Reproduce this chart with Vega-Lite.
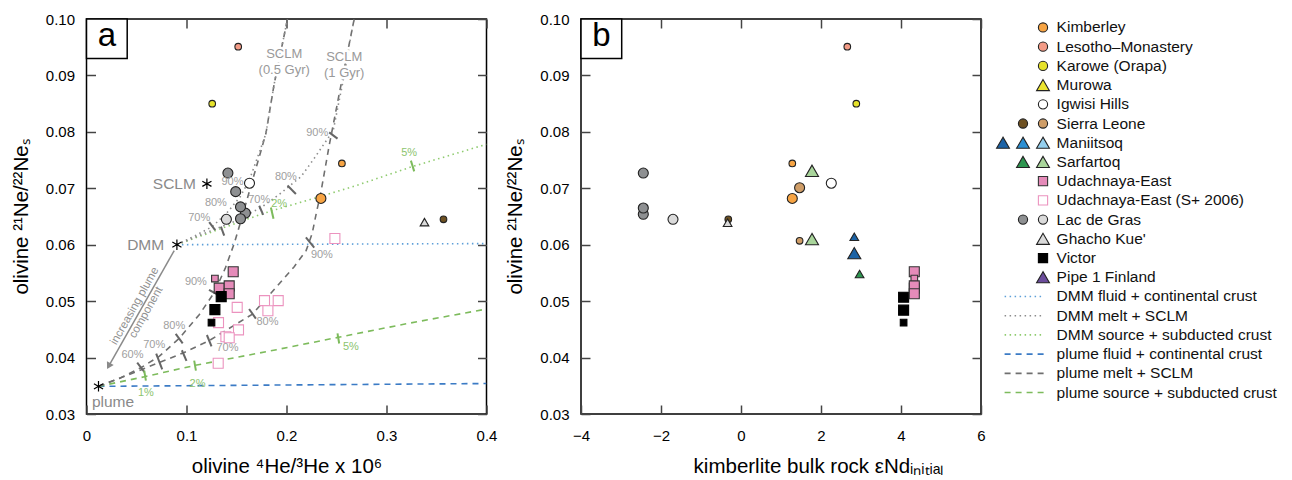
{
"$schema": "https://vega.github.io/schema/vega-lite/v6.json",
"padding": {"left": 10.5, "top": 11, "right": 0, "bottom": 0},
"background": "white",
"config": {
 "font": "Liberation Sans",
 "view": {"stroke": "#000", "strokeWidth": 1.5},
 "axis": {"domain": false, "grid": false, "ticks": true, "labelFlush": false, "tickColor": "#444", "tickSize": -9, "tickWidth": 1.5, "labelFontSize": 15, "labelColor": "#000", "labelFont": "Liberation Sans", "titleFont": "Liberation Sans", "titleFontSize": 20.5, "titleFontWeight": "normal", "titleColor": "#000"},
 "axisX": {"labelPadding": 23, "titlePadding": 13},
 "axisY": {"labelPadding": 21, "titlePadding": 14},
 "text": {"font": "Liberation Sans"}
},
"datasets": {
 "linesA": [
  {"mix": "DMM fluid + continental crust", "curve": "dmmfluid", "i": 0, "he": 0.0904, "ne": 0.0600},
  {"mix": "DMM fluid + continental crust", "curve": "dmmfluid", "i": 1, "he": 0.4, "ne": 0.0602},
  {"mix": "plume fluid + continental crust", "curve": "plumefluid", "i": 0, "he": 0.012, "ne": 0.0349},
  {"mix": "plume fluid + continental crust", "curve": "plumefluid", "i": 1, "he": 0.4, "ne": 0.0354},
  {"mix": "DMM source + subducted crust", "curve": "dmmsrc", "i": 0, "he": 0.0904, "ne": 0.0600},
  {"mix": "DMM source + subducted crust", "curve": "dmmsrc", "i": 1, "he": 0.115, "ne": 0.0616},
  {"mix": "DMM source + subducted crust", "curve": "dmmsrc", "i": 2, "he": 0.14, "ne": 0.0632},
  {"mix": "DMM source + subducted crust", "curve": "dmmsrc", "i": 3, "he": 0.16, "ne": 0.0645},
  {"mix": "DMM source + subducted crust", "curve": "dmmsrc", "i": 4, "he": 0.185, "ne": 0.0660},
  {"mix": "DMM source + subducted crust", "curve": "dmmsrc", "i": 5, "he": 0.21, "ne": 0.0673},
  {"mix": "DMM source + subducted crust", "curve": "dmmsrc", "i": 6, "he": 0.235, "ne": 0.0686},
  {"mix": "DMM source + subducted crust", "curve": "dmmsrc", "i": 7, "he": 0.27, "ne": 0.0705},
  {"mix": "DMM source + subducted crust", "curve": "dmmsrc", "i": 8, "he": 0.325, "ne": 0.0738},
  {"mix": "DMM source + subducted crust", "curve": "dmmsrc", "i": 9, "he": 0.4, "ne": 0.0778},
  {"mix": "plume source + subducted crust", "curve": "plumesrc", "i": 0, "he": 0.012, "ne": 0.0349},
  {"mix": "plume source + subducted crust", "curve": "plumesrc", "i": 1, "he": 0.058, "ne": 0.0366},
  {"mix": "plume source + subducted crust", "curve": "plumesrc", "i": 2, "he": 0.108, "ne": 0.0386},
  {"mix": "plume source + subducted crust", "curve": "plumesrc", "i": 3, "he": 0.19, "ne": 0.0414},
  {"mix": "plume source + subducted crust", "curve": "plumesrc", "i": 4, "he": 0.252, "ne": 0.0436},
  {"mix": "plume source + subducted crust", "curve": "plumesrc", "i": 5, "he": 0.32, "ne": 0.0460},
  {"mix": "plume source + subducted crust", "curve": "plumesrc", "i": 6, "he": 0.4, "ne": 0.0486},
  {"mix": "plume melt + SCLM", "curve": "p05", "i": 0, "he": 0.012, "ne": 0.0349},
  {"mix": "plume melt + SCLM", "curve": "p05", "i": 1, "he": 0.0327, "ne": 0.0363},
  {"mix": "plume melt + SCLM", "curve": "p05", "i": 2, "he": 0.0544, "ne": 0.0382},
  {"mix": "plume melt + SCLM", "curve": "p05", "i": 3, "he": 0.0727, "ne": 0.0402},
  {"mix": "plume melt + SCLM", "curve": "p05", "i": 4, "he": 0.0927, "ne": 0.0434},
  {"mix": "plume melt + SCLM", "curve": "p05", "i": 5, "he": 0.1127, "ne": 0.0476},
  {"mix": "plume melt + SCLM", "curve": "p05", "i": 6, "he": 0.1277, "ne": 0.0515},
  {"mix": "plume melt + SCLM", "curve": "p05", "i": 7, "he": 0.1387, "ne": 0.0558},
  {"mix": "plume melt + SCLM", "curve": "p05", "i": 8, "he": 0.1477, "ne": 0.0602},
  {"mix": "plume melt + SCLM", "curve": "p05", "i": 9, "he": 0.1557, "ne": 0.0650},
  {"mix": "plume melt + SCLM", "curve": "p05", "i": 10, "he": 0.166, "ne": 0.0714},
  {"mix": "plume melt + SCLM", "curve": "p05", "i": 11, "he": 0.1794, "ne": 0.0797},
  {"mix": "plume melt + SCLM", "curve": "p05", "i": 12, "he": 0.1877, "ne": 0.0885},
  {"mix": "plume melt + SCLM", "curve": "p05", "i": 13, "he": 0.201, "ne": 0.1},
  {"mix": "plume melt + SCLM", "curve": "p1", "i": 0, "he": 0.012, "ne": 0.0349},
  {"mix": "plume melt + SCLM", "curve": "p1", "i": 1, "he": 0.0527, "ne": 0.0377},
  {"mix": "plume melt + SCLM", "curve": "p1", "i": 2, "he": 0.0977, "ne": 0.0409},
  {"mix": "plume melt + SCLM", "curve": "p1", "i": 3, "he": 0.1227, "ne": 0.0430},
  {"mix": "plume melt + SCLM", "curve": "p1", "i": 4, "he": 0.166, "ne": 0.0477},
  {"mix": "plume melt + SCLM", "curve": "p1", "i": 5, "he": 0.1894, "ne": 0.0524},
  {"mix": "plume melt + SCLM", "curve": "p1", "i": 6, "he": 0.2077, "ne": 0.0561},
  {"mix": "plume melt + SCLM", "curve": "p1", "i": 7, "he": 0.2197, "ne": 0.0590},
  {"mix": "plume melt + SCLM", "curve": "p1", "i": 8, "he": 0.2257, "ne": 0.0620},
  {"mix": "plume melt + SCLM", "curve": "p1", "i": 9, "he": 0.2297, "ne": 0.0655},
  {"mix": "plume melt + SCLM", "curve": "p1", "i": 10, "he": 0.2347, "ne": 0.0696},
  {"mix": "plume melt + SCLM", "curve": "p1", "i": 11, "he": 0.2427, "ne": 0.0776},
  {"mix": "plume melt + SCLM", "curve": "p1", "i": 12, "he": 0.2527, "ne": 0.0867},
  {"mix": "plume melt + SCLM", "curve": "p1", "i": 13, "he": 0.2677, "ne": 0.1},
  {"mix": "DMM melt + SCLM", "curve": "d05", "i": 0, "he": 0.0904, "ne": 0.0600},
  {"mix": "DMM melt + SCLM", "curve": "d05", "i": 1, "he": 0.1087, "ne": 0.0616},
  {"mix": "DMM melt + SCLM", "curve": "d05", "i": 2, "he": 0.1257, "ne": 0.0632},
  {"mix": "DMM melt + SCLM", "curve": "d05", "i": 3, "he": 0.1407, "ne": 0.0657},
  {"mix": "DMM melt + SCLM", "curve": "d05", "i": 4, "he": 0.1537, "ne": 0.0685},
  {"mix": "DMM melt + SCLM", "curve": "d05", "i": 5, "he": 0.1627, "ne": 0.0714},
  {"mix": "DMM melt + SCLM", "curve": "d05", "i": 6, "he": 0.1717, "ne": 0.0758},
  {"mix": "DMM melt + SCLM", "curve": "d05", "i": 7, "he": 0.1794, "ne": 0.0797},
  {"mix": "DMM melt + SCLM", "curve": "d05", "i": 8, "he": 0.1877, "ne": 0.0885},
  {"mix": "DMM melt + SCLM", "curve": "d05", "i": 9, "he": 0.201, "ne": 0.1},
  {"mix": "DMM melt + SCLM", "curve": "d1", "i": 0, "he": 0.0904, "ne": 0.0600},
  {"mix": "DMM melt + SCLM", "curve": "d1", "i": 1, "he": 0.1177, "ne": 0.0620},
  {"mix": "DMM melt + SCLM", "curve": "d1", "i": 2, "he": 0.1477, "ne": 0.0641},
  {"mix": "DMM melt + SCLM", "curve": "d1", "i": 3, "he": 0.1747, "ne": 0.0666},
  {"mix": "DMM melt + SCLM", "curve": "d1", "i": 4, "he": 0.1927, "ne": 0.0689},
  {"mix": "DMM melt + SCLM", "curve": "d1", "i": 5, "he": 0.2147, "ne": 0.0721},
  {"mix": "DMM melt + SCLM", "curve": "d1", "i": 6, "he": 0.2277, "ne": 0.0753},
  {"mix": "DMM melt + SCLM", "curve": "d1", "i": 7, "he": 0.2377, "ne": 0.0779},
  {"mix": "DMM melt + SCLM", "curve": "d1", "i": 8, "he": 0.2467, "ne": 0.0802},
  {"mix": "DMM melt + SCLM", "curve": "d1", "i": 9, "he": 0.2517, "ne": 0.0847},
  {"mix": "DMM melt + SCLM", "curve": "d1", "i": 10, "he": 0.2577, "ne": 0.0900},
  {"mix": "DMM melt + SCLM", "curve": "d1", "i": 11, "he": 0.2647, "ne": 0.0974},
  {"mix": "DMM melt + SCLM", "curve": "d1", "i": 12, "he": 0.2677, "ne": 0.1}
 ],
 "marksA": [
  {"tone": "gray", "he": 0.0507, "ne": 0.0391, "he2": 0.0580, "ne2": 0.0374},
  {"tone": "gray", "he": 0.0697, "ne": 0.0407, "he2": 0.0757, "ne2": 0.0379},
  {"tone": "gray", "he": 0.0892, "ne": 0.0442, "he2": 0.0962, "ne2": 0.0425},
  {"tone": "gray", "he": 0.1225, "ne": 0.0520, "he2": 0.1329, "ne2": 0.0510},
  {"tone": "gray", "he": 0.0954, "ne": 0.0413, "he2": 0.1000, "ne2": 0.0394},
  {"tone": "gray", "he": 0.1204, "ne": 0.0440, "he2": 0.1250, "ne2": 0.0420},
  {"tone": "gray", "he": 0.1626, "ne": 0.0486, "he2": 0.1694, "ne2": 0.0469},
  {"tone": "gray", "he": 0.2194, "ne": 0.0613, "he2": 0.2277, "ne2": 0.0595},
  {"tone": "gray", "he": 0.2427, "ne": 0.0799, "he2": 0.2510, "ne2": 0.0788},
  {"tone": "gray", "he": 0.1727, "ne": 0.0669, "he2": 0.1767, "ne2": 0.0653},
  {"tone": "gray", "he": 0.2010, "ne": 0.0705, "he2": 0.2094, "ne2": 0.0690},
  {"tone": "gray", "he": 0.1227, "ne": 0.0640, "he2": 0.1287, "ne2": 0.0626},
  {"tone": "gray", "he": 0.1344, "ne": 0.0632, "he2": 0.1377, "ne2": 0.0616},
  {"tone": "green", "he": 0.1844, "ne": 0.0666, "he2": 0.1870, "ne2": 0.0646},
  {"tone": "green", "he": 0.3244, "ne": 0.0749, "he2": 0.3277, "ne2": 0.0730},
  {"tone": "green", "he": 0.2510, "ne": 0.0443, "he2": 0.2527, "ne2": 0.0425},
  {"tone": "green", "he": 0.1077, "ne": 0.03945, "he2": 0.1094, "ne2": 0.03768},
  {"tone": "green", "he": 0.0577, "ne": 0.03768, "he2": 0.0594, "ne2": 0.0359}
 ],
 "ptsA": [
  {"v": "Udachnaya-East (S+ 2006)", "sz": "L", "he": 0.2484, "ne": 0.0611},
  {"v": "Udachnaya-East (S+ 2006)", "sz": "L", "he": 0.1780, "ne": 0.0501},
  {"v": "Udachnaya-East (S+ 2006)", "sz": "L", "he": 0.1917, "ne": 0.0501},
  {"v": "Udachnaya-East (S+ 2006)", "sz": "L", "he": 0.1814, "ne": 0.0483},
  {"v": "Udachnaya-East (S+ 2006)", "sz": "L", "he": 0.1507, "ne": 0.0489},
  {"v": "Udachnaya-East (S+ 2006)", "sz": "L", "he": 0.1320, "ne": 0.0462},
  {"v": "Udachnaya-East (S+ 2006)", "sz": "L", "he": 0.1520, "ne": 0.0449},
  {"v": "Udachnaya-East (S+ 2006)", "sz": "L", "he": 0.1394, "ne": 0.0437},
  {"v": "Udachnaya-East (S+ 2006)", "sz": "L", "he": 0.1427, "ne": 0.0435},
  {"v": "Udachnaya-East (S+ 2006)", "sz": "L", "he": 0.1317, "ne": 0.0390},
  {"v": "Lesotho–Monastery", "sz": "S", "he": 0.1517, "ne": 0.0951},
  {"v": "Karowe (Orapa)", "sz": "S", "he": 0.1257, "ne": 0.0850},
  {"v": "Lac de Gras A", "sz": "L", "he": 0.1414, "ne": 0.0727},
  {"v": "Lac de Gras A", "sz": "L", "he": 0.1492, "ne": 0.0694},
  {"v": "Lac de Gras A", "sz": "L", "he": 0.1589, "ne": 0.0656},
  {"v": "Lac de Gras A", "sz": "L", "he": 0.1540, "ne": 0.0667},
  {"v": "Lac de Gras A", "sz": "L", "he": 0.1540, "ne": 0.0646},
  {"v": "Lac de Gras B", "sz": "L", "he": 0.1399, "ne": 0.0645},
  {"v": "Igwisi Hills", "sz": "L", "he": 0.1630, "ne": 0.0709},
  {"v": "Kimberley", "sz": "S", "he": 0.2554, "ne": 0.0744},
  {"v": "Kimberley", "sz": "L", "he": 0.2344, "ne": 0.0682},
  {"v": "Sierra Leone A", "sz": "S", "he": 0.3570, "ne": 0.0645},
  {"v": "Ghacho Kue'", "sz": "S", "he": 0.3380, "ne": 0.0640},
  {"v": "Udachnaya-East", "sz": "L", "he": 0.1467, "ne": 0.0552},
  {"v": "Udachnaya-East", "sz": "S", "he": 0.1284, "ne": 0.0540},
  {"v": "Udachnaya-East", "sz": "L", "he": 0.1327, "ne": 0.0523},
  {"v": "Udachnaya-East", "sz": "L", "he": 0.1427, "ne": 0.0527},
  {"v": "Udachnaya-East", "sz": "L", "he": 0.1427, "ne": 0.0513},
  {"v": "Victor", "sz": "L", "he": 0.1347, "ne": 0.0508},
  {"v": "Victor", "sz": "L", "he": 0.1284, "ne": 0.0485},
  {"v": "Victor", "sz": "S", "he": 0.1250, "ne": 0.0462}
 ],
 "endA": [
  {"name": "SCLM", "he": 0.1204, "ne": 0.0708},
  {"name": "DMM", "he": 0.0904, "ne": 0.0600},
  {"name": "plume", "he": 0.012, "ne": 0.0349}
 ],
 "annA": [
  {"k": "endR", "t": "SCLM", "he": 0.1094, "ne": 0.0708},
  {"k": "endR", "t": "DMM", "he": 0.0777, "ne": 0.0599},
  {"k": "endL", "t": "plume", "he": 0.0054, "ne": 0.0321},
  {"k": "gyr", "t": "SCLM|(0.5 Gyr)", "he": 0.1977, "ne": 0.0938},
  {"k": "gyr", "t": "SCLM|(1 Gyr)", "he": 0.2577, "ne": 0.0932},
  {"k": "pct", "t": "90%", "he": 0.146, "ne": 0.07106},
  {"k": "pct", "t": "80%", "he": 0.1294, "ne": 0.06734},
  {"k": "pct", "t": "70%", "he": 0.1127, "ne": 0.06475},
  {"k": "pct", "t": "70%", "he": 0.1727, "ne": 0.06794},
  {"k": "pct", "t": "80%", "he": 0.1994, "ne": 0.07207},
  {"k": "pct", "t": "90%", "he": 0.2307, "ne": 0.07988},
  {"k": "pct", "t": "90%", "he": 0.2354, "ne": 0.05824},
  {"k": "pct", "t": "90%", "he": 0.1094, "ne": 0.05333},
  {"k": "pct", "t": "80%", "he": 0.0877, "ne": 0.04566},
  {"k": "pct", "t": "70%", "he": 0.0677, "ne": 0.04229},
  {"k": "pct", "t": "60%", "he": 0.046, "ne": 0.04051},
  {"k": "pct", "t": "70%", "he": 0.141, "ne": 0.0417},
  {"k": "pct", "t": "80%", "he": 0.181, "ne": 0.04624},
  {"k": "pctg", "t": "2%", "he": 0.1927, "ne": 0.06723},
  {"k": "pctg", "t": "5%", "he": 0.3227, "ne": 0.07628},
  {"k": "pctg", "t": "5%", "he": 0.2644, "ne": 0.04193},
  {"k": "pctg", "t": "2%", "he": 0.111, "ne": 0.03532},
  {"k": "pctg", "t": "1%", "he": 0.0594, "ne": 0.03365},
  {"k": "arrow", "t": "increasing plume|component", "he": 0.0485, "ne": 0.0491}
 ],
 "arrowA": [
  {"he": 0.0877, "ne": 0.05895, "he2": 0.0222, "ne2": 0.0385}
 ],
 "ptsB": [
  {"v": "Lac de Gras A", "sz": "L", "end": -2.4425, "ne": 0.0727},
  {"v": "Lac de Gras A", "sz": "L", "end": -2.4425, "ne": 0.0654},
  {"v": "Lac de Gras A", "sz": "L", "end": -2.4425, "ne": 0.0665},
  {"v": "Lac de Gras B", "sz": "L", "end": -1.70, "ne": 0.0645},
  {"v": "Ghacho Kue'", "sz": "S", "end": -0.335, "ne": 0.0639},
  {"v": "Sierra Leone A", "sz": "S", "end": -0.3175, "ne": 0.0645},
  {"v": "Kimberley", "sz": "S", "end": 1.2825, "ne": 0.0744},
  {"v": "Sierra Leone B", "sz": "L", "end": 1.465, "ne": 0.0701},
  {"v": "Kimberley", "sz": "L", "end": 1.2825, "ne": 0.0682},
  {"v": "Sierra Leone B", "sz": "S", "end": 1.465, "ne": 0.0607},
  {"v": "Sarfartoq B", "sz": "L", "end": 1.775, "ne": 0.0731},
  {"v": "Sarfartoq B", "sz": "L", "end": 1.775, "ne": 0.0610},
  {"v": "Igwisi Hills", "sz": "L", "end": 2.2575, "ne": 0.0709},
  {"v": "Maniitsoq A", "sz": "S", "end": 2.8325, "ne": 0.0614},
  {"v": "Maniitsoq A", "sz": "L", "end": 2.8325, "ne": 0.0585},
  {"v": "Sarfartoq A", "sz": "S", "end": 2.965, "ne": 0.0548},
  {"v": "Lesotho–Monastery", "sz": "S", "end": 2.6575, "ne": 0.0951},
  {"v": "Karowe (Orapa)", "sz": "S", "end": 2.8825, "ne": 0.0850},
  {"v": "Victor", "sz": "L", "end": 4.065, "ne": 0.0507},
  {"v": "Victor", "sz": "L", "end": 4.065, "ne": 0.0484},
  {"v": "Victor", "sz": "S", "end": 4.065, "ne": 0.0462},
  {"v": "Udachnaya-East", "sz": "L", "end": 4.3325, "ne": 0.0552},
  {"v": "Udachnaya-East", "sz": "S", "end": 4.3325, "ne": 0.0540},
  {"v": "Udachnaya-East", "sz": "L", "end": 4.3325, "ne": 0.0523},
  {"v": "Udachnaya-East", "sz": "L", "end": 4.3325, "ne": 0.0527},
  {"v": "Udachnaya-East", "sz": "L", "end": 4.3325, "ne": 0.0513}
 ],
 "legSym": [
  {"entry": "Kimberley", "v": "Kimberley", "col": 3},
  {"entry": "Lesotho–Monastery", "v": "Lesotho–Monastery", "col": 3},
  {"entry": "Karowe (Orapa)", "v": "Karowe (Orapa)", "col": 3},
  {"entry": "Murowa", "v": "Murowa", "col": 3},
  {"entry": "Igwisi Hills", "v": "Igwisi Hills", "col": 3},
  {"entry": "Sierra Leone", "v": "Sierra Leone A", "col": 2},
  {"entry": "Sierra Leone", "v": "Sierra Leone B", "col": 3},
  {"entry": "Maniitsoq", "v": "Maniitsoq A", "col": 1},
  {"entry": "Maniitsoq", "v": "Maniitsoq B", "col": 2},
  {"entry": "Maniitsoq", "v": "Maniitsoq C", "col": 3},
  {"entry": "Sarfartoq", "v": "Sarfartoq A", "col": 2},
  {"entry": "Sarfartoq", "v": "Sarfartoq B", "col": 3},
  {"entry": "Udachnaya-East", "v": "Udachnaya-East", "col": 3},
  {"entry": "Udachnaya-East (S+ 2006)", "v": "Udachnaya-East (S+ 2006)", "col": 3},
  {"entry": "Lac de Gras", "v": "Lac de Gras A", "col": 2},
  {"entry": "Lac de Gras", "v": "Lac de Gras B", "col": 3},
  {"entry": "Ghacho Kue'", "v": "Ghacho Kue'", "col": 3},
  {"entry": "Victor", "v": "Victor", "col": 3},
  {"entry": "Pipe 1 Finland", "v": "Pipe 1 Finland", "col": 3}
 ],
 "legLines": [
  {"entry": "DMM fluid + continental crust"},
  {"entry": "DMM melt + SCLM"},
  {"entry": "DMM source + subducted crust"},
  {"entry": "plume fluid + continental crust"},
  {"entry": "plume melt + SCLM"},
  {"entry": "plume source + subducted crust"}
 ],
 "legText": [
  {"entry": "Kimberley"}, {"entry": "Lesotho–Monastery"}, {"entry": "Karowe (Orapa)"}, {"entry": "Murowa"},
  {"entry": "Igwisi Hills"}, {"entry": "Sierra Leone"}, {"entry": "Maniitsoq"}, {"entry": "Sarfartoq"},
  {"entry": "Udachnaya-East"}, {"entry": "Udachnaya-East (S+ 2006)"}, {"entry": "Lac de Gras"}, {"entry": "Ghacho Kue'"},
  {"entry": "Victor"}, {"entry": "Pipe 1 Finland"}, {"entry": "DMM fluid + continental crust"}, {"entry": "DMM melt + SCLM"},
  {"entry": "DMM source + subducted crust"}, {"entry": "plume fluid + continental crust"}, {"entry": "plume melt + SCLM"}, {"entry": "plume source + subducted crust"}
 ]
},
"spacing": 6.5,
"hconcat": [
 {
  "width": 400, "height": 395,
  "resolve": {"scale": {"stroke": "independent", "size": "independent", "fill": "independent", "shape": "independent", "strokeDash": "independent"}, "axis": {"x": "independent", "y": "independent"}},
  "layer": [
   {
    "data": {"name": "linesA"},
    "mark": {"type": "line", "strokeWidth": 1.6, "clip": true},
    "encoding": {
     "x": {"field": "he", "type": "quantitative", "scale": {"domain": [0, 0.4], "nice": false, "zero": false}, "axis": {"values": [0, 0.1, 0.2, 0.3, 0.4], "format": "~g", "title": "olivine ⁴He/³He x 10⁶"}},
     "y": {"field": "ne", "type": "quantitative", "scale": {"domain": [0.03, 0.1], "nice": false, "zero": false}, "axis": {"values": [0.03, 0.04, 0.05, 0.06, 0.07, 0.08, 0.09, 0.1], "format": ".2f", "title": "olivine ²¹Ne/²²Neₛ"}},
     "detail": {"field": "curve"},
     "order": {"field": "i", "type": "quantitative"},
     "stroke": {"field": "mix", "type": "nominal", "legend": null, "scale": {"domain": ["DMM fluid + continental crust", "DMM melt + SCLM", "DMM source + subducted crust", "plume fluid + continental crust", "plume melt + SCLM", "plume source + subducted crust"], "range": ["#5E9FD8", "#8C8C8C", "#8FCB6F", "#3B7BC5", "#6F6F6F", "#7DBB5C"]}},
     "strokeDash": {"field": "mix", "type": "nominal", "legend": null, "scale": {"domain": ["DMM fluid + continental crust", "DMM melt + SCLM", "DMM source + subducted crust", "plume fluid + continental crust", "plume melt + SCLM", "plume source + subducted crust"], "range": [[1.5, 3.5], [1.5, 3.5], [1.5, 3.5], [6, 5], [6, 5], [6, 5]]}}
    }
   },
   {
    "data": {"name": "marksA"},
    "transform": [{"filter": "datum.tone === 'gray'"}],
    "mark": {"type": "rule", "stroke": "#666", "strokeWidth": 2},
    "encoding": {
     "x": {"field": "he", "type": "quantitative", "axis": null}, "x2": {"field": "he2"},
     "y": {"field": "ne", "type": "quantitative", "axis": null}, "y2": {"field": "ne2"}
    }
   },
   {
    "data": {"name": "marksA"},
    "transform": [{"filter": "datum.tone === 'green'"}],
    "mark": {"type": "rule", "stroke": "#7DBB5C", "strokeWidth": 2},
    "encoding": {
     "x": {"field": "he", "type": "quantitative", "axis": null}, "x2": {"field": "he2"},
     "y": {"field": "ne", "type": "quantitative", "axis": null}, "y2": {"field": "ne2"}
    }
   },
   {
    "data": {"name": "arrowA"},
    "mark": {"type": "rule", "stroke": "#8A8A8A", "strokeWidth": 1.5},
    "encoding": {
     "x": {"field": "he", "type": "quantitative", "axis": null}, "x2": {"field": "he2"},
     "y": {"field": "ne", "type": "quantitative", "axis": null}, "y2": {"field": "ne2"}
    }
   },
   {
    "data": {"name": "arrowA"},
    "mark": {"type": "point", "shape": "triangle-up", "filled": true, "fill": "#8A8A8A", "size": 60, "angle": 209, "opacity": 1},
    "encoding": {
     "x": {"field": "he2", "type": "quantitative", "axis": null},
     "y": {"field": "ne2", "type": "quantitative", "axis": null}
    }
   },
   {
    "data": {"name": "ptsA"},
    "transform": [{"filter": {"not": {"field": "v", "oneOf": ["Murowa", "Maniitsoq A", "Maniitsoq B", "Maniitsoq C", "Sarfartoq A", "Sarfartoq B", "Ghacho Kue'", "Pipe 1 Finland"]}}}],
    "mark": {"type": "point", "filled": true, "strokeWidth": 1.1, "opacity": 1},
    "encoding": {
     "x": {"field": "he", "type": "quantitative", "axis": null},
     "y": {"field": "ne", "type": "quantitative", "axis": null},
     "shape": {"field": "v", "type": "nominal", "legend": null, "scale": {"domain": ["Kimberley", "Lesotho–Monastery", "Karowe (Orapa)", "Igwisi Hills", "Sierra Leone A", "Sierra Leone B", "Udachnaya-East", "Udachnaya-East (S+ 2006)", "Lac de Gras A", "Lac de Gras B", "Victor"], "range": ["circle", "circle", "circle", "circle", "circle", "circle", "square", "square", "circle", "circle", "square"]}},
     "fill": {"field": "v", "type": "nominal", "legend": null, "scale": {"domain": ["Kimberley", "Lesotho–Monastery", "Karowe (Orapa)", "Igwisi Hills", "Sierra Leone A", "Sierra Leone B", "Udachnaya-East", "Udachnaya-East (S+ 2006)", "Lac de Gras A", "Lac de Gras B", "Victor"], "range": ["#F7A443", "#F39B86", "#E6E22A", "#FFFFFF", "#6E5122", "#CF9D67", "#E58BB9", "#FFFFFF", "#8E9092", "#DADADA", "#000000"]}},
     "stroke": {"field": "v", "type": "nominal", "legend": null, "scale": {"domain": ["Kimberley", "Lesotho–Monastery", "Karowe (Orapa)", "Igwisi Hills", "Sierra Leone A", "Sierra Leone B", "Udachnaya-East", "Udachnaya-East (S+ 2006)", "Lac de Gras A", "Lac de Gras B", "Victor"], "range": ["#222", "#222", "#222", "#222", "#222", "#222", "#333", "#EC93BF", "#222", "#222", "#000"]}},
     "size": {"field": "sz", "type": "nominal", "legend": null, "scale": {"domain": ["L", "S"], "range": [100, 44]}}
    }
   },
   {
    "data": {"name": "ptsA"},
    "transform": [{"filter": {"field": "v", "oneOf": ["Murowa", "Maniitsoq A", "Maniitsoq B", "Maniitsoq C", "Sarfartoq A", "Sarfartoq B", "Ghacho Kue'", "Pipe 1 Finland"]}}],
    "mark": {"type": "point", "filled": true, "strokeWidth": 1.1, "opacity": 1, "shape": "triangle-up"},
    "encoding": {
     "x": {"field": "he", "type": "quantitative", "axis": null},
     "y": {"field": "ne", "type": "quantitative", "axis": null},
     "fill": {"field": "v", "type": "nominal", "legend": null, "scale": {"domain": ["Murowa", "Maniitsoq A", "Maniitsoq B", "Maniitsoq C", "Sarfartoq A", "Sarfartoq B", "Ghacho Kue'", "Pipe 1 Finland"], "range": ["#ECE42E", "#1C63A6", "#2B8FD3", "#94CFEE", "#2E9650", "#A9D59B", "#DADADA", "#6B4C9B"]}},
     "stroke": {"value": "#222"},
     "size": {"field": "sz", "type": "nominal", "legend": null, "scale": {"domain": ["L", "S"], "range": [170, 75]}}
    }
   },
   {
    "data": {"name": "endA"},
    "mark": {"type": "point", "shape": "M0,-1L0,1M-0.87,-0.5L0.87,0.5M-0.87,0.5L0.87,-0.5", "stroke": "#000", "strokeWidth": 1.2, "size": 110, "filled": false, "opacity": 1},
    "encoding": {
     "x": {"field": "he", "type": "quantitative", "axis": null},
     "y": {"field": "ne", "type": "quantitative", "axis": null}
    }
   },
   {
    "data": {"name": "annA"},
    "transform": [{"filter": "datum.k === 'endR'"}],
    "mark": {"type": "text", "align": "right", "baseline": "middle", "fontSize": 15.5, "fill": "#8A8A8A"},
    "encoding": {"x": {"field": "he", "type": "quantitative", "axis": null}, "y": {"field": "ne", "type": "quantitative", "axis": null}, "text": {"field": "t"}}
   },
   {
    "data": {"name": "annA"},
    "transform": [{"filter": "datum.k === 'endL'"}],
    "mark": {"type": "text", "align": "left", "baseline": "middle", "fontSize": 15.5, "fill": "#8A8A8A"},
    "encoding": {"x": {"field": "he", "type": "quantitative", "axis": null}, "y": {"field": "ne", "type": "quantitative", "axis": null}, "text": {"field": "t"}}
   },
   {
    "data": {"name": "annA"},
    "transform": [{"filter": "datum.k === 'gyr'"}],
    "mark": {"type": "text", "align": "center", "baseline": "middle", "fontSize": 13, "fill": "#FFFFFF", "stroke": "#FFFFFF", "strokeWidth": 5, "lineBreak": "|", "lineHeight": 16},
    "encoding": {"x": {"field": "he", "type": "quantitative", "axis": null}, "y": {"field": "ne", "type": "quantitative", "axis": null}, "text": {"field": "t"}}
   },
   {
    "data": {"name": "annA"},
    "transform": [{"filter": "datum.k === 'gyr'"}],
    "mark": {"type": "text", "align": "center", "baseline": "middle", "fontSize": 13, "fill": "#999", "lineBreak": "|", "lineHeight": 16},
    "encoding": {"x": {"field": "he", "type": "quantitative", "axis": null}, "y": {"field": "ne", "type": "quantitative", "axis": null}, "text": {"field": "t"}}
   },
   {
    "data": {"name": "annA"},
    "transform": [{"filter": "datum.k === 'pct'"}],
    "mark": {"type": "text", "align": "center", "baseline": "middle", "fontSize": 11, "fill": "#A0A0A0"},
    "encoding": {"x": {"field": "he", "type": "quantitative", "axis": null}, "y": {"field": "ne", "type": "quantitative", "axis": null}, "text": {"field": "t"}}
   },
   {
    "data": {"name": "annA"},
    "transform": [{"filter": "datum.k === 'pctg'"}],
    "mark": {"type": "text", "align": "center", "baseline": "middle", "fontSize": 11, "fill": "#8CC46E"},
    "encoding": {"x": {"field": "he", "type": "quantitative", "axis": null}, "y": {"field": "ne", "type": "quantitative", "axis": null}, "text": {"field": "t"}}
   },
   {
    "data": {"name": "annA"},
    "transform": [{"filter": "datum.k === 'arrow'"}],
    "mark": {"type": "text", "align": "center", "baseline": "middle", "fontSize": 11.5, "fill": "#909090", "angle": 299.3, "lineBreak": "|", "lineHeight": 13},
    "encoding": {"x": {"field": "he", "type": "quantitative", "axis": null}, "y": {"field": "ne", "type": "quantitative", "axis": null}, "text": {"field": "t"}}
   },
   {
    "data": {"values": [{"p": "a"}]},
    "mark": {"type": "rect", "fill": "#FFFFFF", "stroke": "#000", "strokeWidth": 1.5},
    "encoding": {"x": {"datum": 0, "type": "quantitative", "axis": null}, "x2": {"datum": 0.0407}, "y": {"datum": 0.1, "type": "quantitative", "axis": null}, "y2": {"datum": 0.093}}
   },
   {
    "data": {"values": [{"p": "a"}]},
    "mark": {"type": "text", "align": "center", "baseline": "alphabetic", "fontSize": 33, "fill": "#000"},
    "encoding": {"x": {"datum": 0.0203, "type": "quantitative", "axis": null}, "y": {"datum": 0.0953, "type": "quantitative", "axis": null}, "text": {"field": "p"}}
   },
   {
    "data": {"values": [{"p": "a"}]},
    "mark": {"type": "point", "opacity": 0},
    "encoding": {
     "x": {"datum": 0.2, "type": "quantitative", "axis": {"orient": "top", "values": [0, 0.1, 0.2, 0.3, 0.4], "labels": false, "title": null}},
     "y": {"datum": 0.05, "type": "quantitative", "axis": {"orient": "right", "values": [0.03, 0.04, 0.05, 0.06, 0.07, 0.08, 0.09, 0.1], "labels": false, "title": null}}
    }
   }
  ]
 },
 {
  "spacing": 0,
  "hconcat": [
   {
    "width": 400, "height": 395,
    "resolve": {"scale": {"stroke": "independent", "size": "independent", "fill": "independent", "shape": "independent"}, "axis": {"x": "independent", "y": "independent"}},
    "layer": [
     {
      "data": {"name": "ptsB"},
      "transform": [{"filter": {"not": {"field": "v", "oneOf": ["Murowa", "Maniitsoq A", "Maniitsoq B", "Maniitsoq C", "Sarfartoq A", "Sarfartoq B", "Ghacho Kue'", "Pipe 1 Finland"]}}}],
      "mark": {"type": "point", "filled": true, "strokeWidth": 1.1, "opacity": 1},
      "encoding": {
       "x": {"field": "end", "type": "quantitative", "scale": {"domain": [-4, 6], "nice": false, "zero": false}, "axis": {"values": [-4, -2, 0, 2, 4, 6], "format": "d", "title": "kimberlite bulk rock εNdᵢₙᵢₜᵢₐₗ", "titleX": 237}},
       "y": {"field": "ne", "type": "quantitative", "scale": {"domain": [0.03, 0.1], "nice": false, "zero": false}, "axis": {"values": [0.03, 0.04, 0.05, 0.06, 0.07, 0.08, 0.09, 0.1], "format": ".2f", "title": "olivine ²¹Ne/²²Neₛ"}},
       "shape": {"field": "v", "type": "nominal", "legend": null, "scale": {"domain": ["Kimberley", "Lesotho–Monastery", "Karowe (Orapa)", "Igwisi Hills", "Sierra Leone A", "Sierra Leone B", "Udachnaya-East", "Udachnaya-East (S+ 2006)", "Lac de Gras A", "Lac de Gras B", "Victor"], "range": ["circle", "circle", "circle", "circle", "circle", "circle", "square", "square", "circle", "circle", "square"]}},
       "fill": {"field": "v", "type": "nominal", "legend": null, "scale": {"domain": ["Kimberley", "Lesotho–Monastery", "Karowe (Orapa)", "Igwisi Hills", "Sierra Leone A", "Sierra Leone B", "Udachnaya-East", "Udachnaya-East (S+ 2006)", "Lac de Gras A", "Lac de Gras B", "Victor"], "range": ["#F7A443", "#F39B86", "#E6E22A", "#FFFFFF", "#6E5122", "#CF9D67", "#E58BB9", "#FFFFFF", "#8E9092", "#DADADA", "#000000"]}},
       "stroke": {"field": "v", "type": "nominal", "legend": null, "scale": {"domain": ["Kimberley", "Lesotho–Monastery", "Karowe (Orapa)", "Igwisi Hills", "Sierra Leone A", "Sierra Leone B", "Udachnaya-East", "Udachnaya-East (S+ 2006)", "Lac de Gras A", "Lac de Gras B", "Victor"], "range": ["#222", "#222", "#222", "#222", "#222", "#222", "#333", "#EC93BF", "#222", "#222", "#000"]}},
       "size": {"field": "sz", "type": "nominal", "legend": null, "scale": {"domain": ["L", "S"], "range": [100, 44]}}
      }
     },
     {
      "data": {"name": "ptsB"},
      "transform": [{"filter": {"field": "v", "oneOf": ["Murowa", "Maniitsoq A", "Maniitsoq B", "Maniitsoq C", "Sarfartoq A", "Sarfartoq B", "Ghacho Kue'", "Pipe 1 Finland"]}}],
      "mark": {"type": "point", "filled": true, "strokeWidth": 1.1, "opacity": 1, "shape": "triangle-up"},
      "encoding": {
       "x": {"field": "end", "type": "quantitative", "axis": null},
       "y": {"field": "ne", "type": "quantitative", "axis": null},
       "fill": {"field": "v", "type": "nominal", "legend": null, "scale": {"domain": ["Murowa", "Maniitsoq A", "Maniitsoq B", "Maniitsoq C", "Sarfartoq A", "Sarfartoq B", "Ghacho Kue'", "Pipe 1 Finland"], "range": ["#ECE42E", "#1C63A6", "#2B8FD3", "#94CFEE", "#2E9650", "#A9D59B", "#DADADA", "#6B4C9B"]}},
       "stroke": {"value": "#222"},
       "size": {"field": "sz", "type": "nominal", "legend": null, "scale": {"domain": ["L", "S"], "range": [170, 75]}}
      }
     },
     {
      "data": {"values": [{"p": "b"}]},
      "mark": {"type": "rect", "fill": "#FFFFFF", "stroke": "#000", "strokeWidth": 1.5},
      "encoding": {"x": {"datum": -4, "type": "quantitative", "axis": null}, "x2": {"datum": -2.9825}, "y": {"datum": 0.1, "type": "quantitative", "axis": null}, "y2": {"datum": 0.093}}
     },
     {
      "data": {"values": [{"p": "b"}]},
      "mark": {"type": "text", "align": "center", "baseline": "alphabetic", "fontSize": 33, "fill": "#000"},
      "encoding": {"x": {"datum": -3.49, "type": "quantitative", "axis": null}, "y": {"datum": 0.0953, "type": "quantitative", "axis": null}, "text": {"field": "p"}}
     },
     {
      "data": {"values": [{"p": "b"}]},
      "mark": {"type": "point", "opacity": 0},
      "encoding": {
       "x": {"datum": 0, "type": "quantitative", "axis": {"orient": "top", "values": [-4, -2, 0, 2, 4, 6], "labels": false, "title": null}},
       "y": {"datum": 0.05, "type": "quantitative", "axis": {"orient": "right", "values": [0.03, 0.04, 0.05, 0.06, 0.07, 0.08, 0.09, 0.1], "labels": false, "title": null}}
      }
     }
    ]
   },
   {
    "width": 300, "height": 382,
    "view": {"stroke": null},
    "resolve": {"scale": {"stroke": "independent", "fill": "independent", "shape": "independent"}},
    "layer": [
     {
      "data": {"name": "legLines"},
      "mark": {"type": "rule", "strokeWidth": 1.6},
      "encoding": {
       "x": {"datum": 1.08, "type": "quantitative", "scale": {"domain": [0.15, 15.15], "nice": false, "zero": false}, "axis": null},
       "x2": {"datum": 3.08},
       "y": {"field": "entry", "type": "nominal", "axis": null, "scale": {"type": "point", "padding": 0.44, "domain": ["Kimberley", "Lesotho–Monastery", "Karowe (Orapa)", "Murowa", "Igwisi Hills", "Sierra Leone", "Maniitsoq", "Sarfartoq", "Udachnaya-East", "Udachnaya-East (S+ 2006)", "Lac de Gras", "Ghacho Kue'", "Victor", "Pipe 1 Finland", "DMM fluid + continental crust", "DMM melt + SCLM", "DMM source + subducted crust", "plume fluid + continental crust", "plume melt + SCLM", "plume source + subducted crust"]}},
       "stroke": {"field": "entry", "type": "nominal", "legend": null, "scale": {"domain": ["DMM fluid + continental crust", "DMM melt + SCLM", "DMM source + subducted crust", "plume fluid + continental crust", "plume melt + SCLM", "plume source + subducted crust"], "range": ["#5E9FD8", "#8C8C8C", "#8FCB6F", "#3B7BC5", "#6F6F6F", "#7DBB5C"]}},
       "strokeDash": {"field": "entry", "type": "nominal", "legend": null, "scale": {"domain": ["DMM fluid + continental crust", "DMM melt + SCLM", "DMM source + subducted crust", "plume fluid + continental crust", "plume melt + SCLM", "plume source + subducted crust"], "range": [[1.5, 3.5], [1.5, 3.5], [1.5, 3.5], [6, 5], [6, 5], [6, 5]]}}
      }
     },
     {
      "data": {"name": "legSym"},
      "transform": [{"filter": {"not": {"field": "v", "oneOf": ["Murowa", "Maniitsoq A", "Maniitsoq B", "Maniitsoq C", "Sarfartoq A", "Sarfartoq B", "Ghacho Kue'", "Pipe 1 Finland"]}}}],
      "mark": {"type": "point", "filled": true, "strokeWidth": 1.1, "opacity": 1, "size": 85},
      "encoding": {
       "x": {"field": "col", "type": "quantitative"},
       "y": {"field": "entry", "type": "nominal"},
       "shape": {"field": "v", "type": "nominal", "legend": null, "scale": {"domain": ["Kimberley", "Lesotho–Monastery", "Karowe (Orapa)", "Igwisi Hills", "Sierra Leone A", "Sierra Leone B", "Udachnaya-East", "Udachnaya-East (S+ 2006)", "Lac de Gras A", "Lac de Gras B", "Victor"], "range": ["circle", "circle", "circle", "circle", "circle", "circle", "square", "square", "circle", "circle", "square"]}},
       "fill": {"field": "v", "type": "nominal", "legend": null, "scale": {"domain": ["Kimberley", "Lesotho–Monastery", "Karowe (Orapa)", "Igwisi Hills", "Sierra Leone A", "Sierra Leone B", "Udachnaya-East", "Udachnaya-East (S+ 2006)", "Lac de Gras A", "Lac de Gras B", "Victor"], "range": ["#F7A443", "#F39B86", "#E6E22A", "#FFFFFF", "#6E5122", "#CF9D67", "#E58BB9", "#FFFFFF", "#8E9092", "#DADADA", "#000000"]}},
       "stroke": {"field": "v", "type": "nominal", "legend": null, "scale": {"domain": ["Kimberley", "Lesotho–Monastery", "Karowe (Orapa)", "Igwisi Hills", "Sierra Leone A", "Sierra Leone B", "Udachnaya-East", "Udachnaya-East (S+ 2006)", "Lac de Gras A", "Lac de Gras B", "Victor"], "range": ["#222", "#222", "#222", "#222", "#222", "#222", "#333", "#EC93BF", "#222", "#222", "#000"]}}
      }
     },
     {
      "data": {"name": "legSym"},
      "transform": [{"filter": {"field": "v", "oneOf": ["Murowa", "Maniitsoq A", "Maniitsoq B", "Maniitsoq C", "Sarfartoq A", "Sarfartoq B", "Ghacho Kue'", "Pipe 1 Finland"]}}],
      "mark": {"type": "point", "filled": true, "strokeWidth": 1.1, "opacity": 1, "shape": "triangle-up", "size": 165, "stroke": "#222"},
      "encoding": {
       "x": {"field": "col", "type": "quantitative"},
       "y": {"field": "entry", "type": "nominal"},
       "fill": {"field": "v", "type": "nominal", "legend": null, "scale": {"domain": ["Murowa", "Maniitsoq A", "Maniitsoq B", "Maniitsoq C", "Sarfartoq A", "Sarfartoq B", "Ghacho Kue'", "Pipe 1 Finland"], "range": ["#ECE42E", "#1C63A6", "#2B8FD3", "#94CFEE", "#2E9650", "#A9D59B", "#DADADA", "#6B4C9B"]}}
      }
     },
     {
      "data": {"name": "legText"},
      "mark": {"type": "text", "align": "left", "baseline": "middle", "fontSize": 15.5, "fill": "#111"},
      "encoding": {
       "x": {"datum": 3.68, "type": "quantitative"},
       "y": {"field": "entry", "type": "nominal"},
       "text": {"field": "entry"}
      }
     }
    ]
   }
  ]
 }
]
}
